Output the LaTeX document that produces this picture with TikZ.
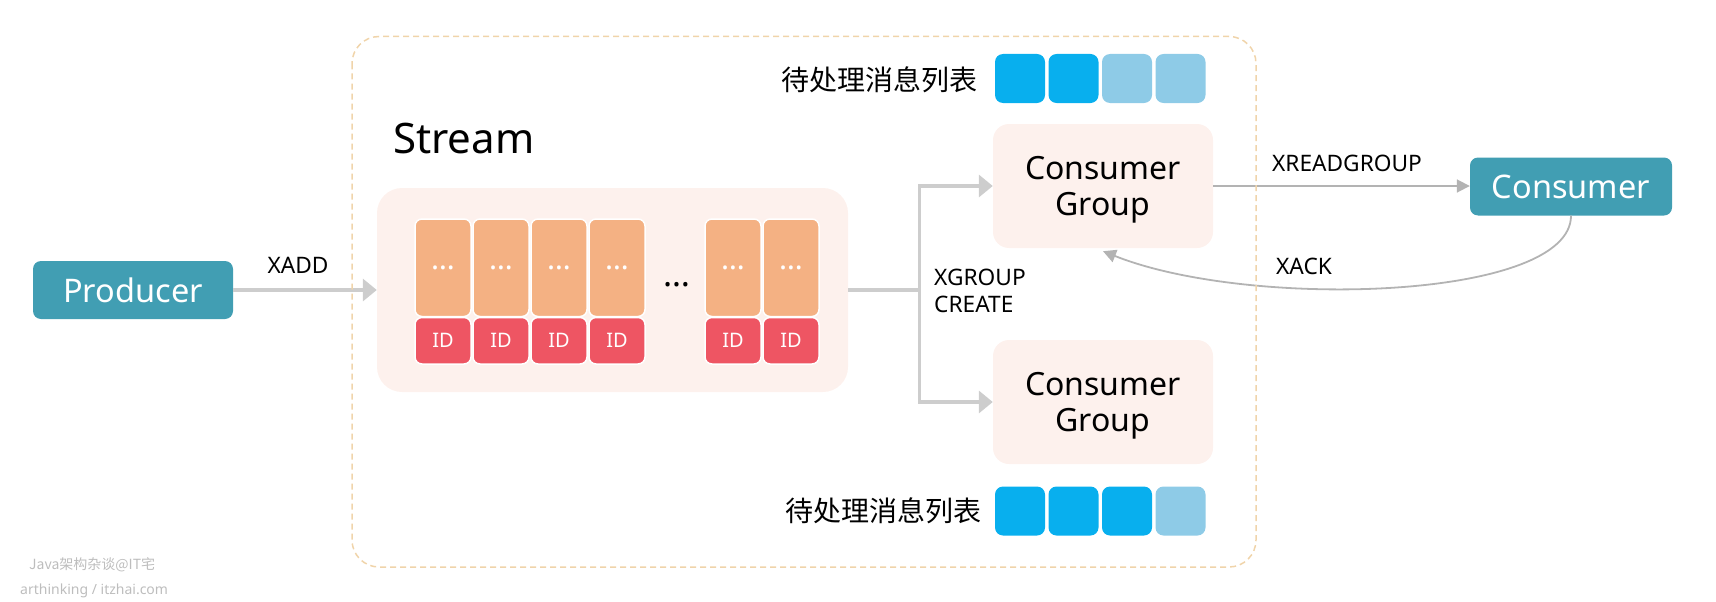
\documentclass[tikz,border=0pt]{standalone}
\usepackage{fontspec}
\setmainfont{Noto Sans}
\newfontfamily\cjk{Noto Sans CJK SC}
\usetikzlibrary{arrows.meta,positioning}
\definecolor{boxteal}{HTML}{419EB3}
\definecolor{panelpink}{HTML}{FDF1ED}
\definecolor{cellorange}{HTML}{F4B183}
\definecolor{cellred}{HTML}{EE5563}
\definecolor{qdark}{HTML}{08AFEE}
\definecolor{qlight}{HTML}{8ECBE7}
\definecolor{arrowgray}{HTML}{CDCDCD}
\definecolor{linegray}{HTML}{B3B3B3}
\definecolor{dashorange}{HTML}{F0D4AA}
\definecolor{wmgray}{HTML}{BDBDBD}

\begin{document}
\begin{tikzpicture}[x=1pt,y=-1pt,
        cmdbox/.style={rectangle,rounded corners=8pt,fill=boxteal,text=white,
            font=\fontsize{32.5}{37}\selectfont,minimum height=58pt},
        grpbox/.style={rectangle,rounded corners=16pt,fill=panelpink,align=center,
            font=\fontsize{32}{36.7}\selectfont,text depth=0pt,
            minimum width=220pt,minimum height=124pt},
        msgcell/.style={rectangle,rounded corners=7pt,fill=cellorange,draw=white,
            line width=1.5pt,minimum width=56pt,minimum height=97.5pt,text=white,
            font=\fontsize{30}{32}\selectfont},
        idcell/.style={msgcell,fill=cellred,minimum height=46.5pt,
            font=\fontsize{20}{22}\selectfont},
        pendsq/.style={rectangle,rounded corners=8pt,minimum width=50pt,minimum height=49pt},
        cmd/.style={inner sep=0pt,font=\fontsize{22.7}{27}\selectfont},
        pendlbl/.style={inner sep=0pt,font=\cjk\fontsize{28}{30}\selectfont},
        fat/.style={arrowgray,line width=3.3pt,-{Triangle[length=14pt,width=22pt]}},
        slim/.style={linegray,line width=1.8pt,-{Triangle[length=13pt,width=13pt]}},
        wm/.style={inner sep=0pt,text=wmgray,font=\fontsize{14}{16}\selectfont}]
    \useasboundingbox (0,0) rectangle (1716,602);

    % producer and consumer
    \node[cmdbox,minimum width=200pt] (producer) at (133,290) {Producer};
    \node[cmdbox,minimum width=202pt] (consumer) at (1571,186.5) {Consumer};

    % stream
    \node[rectangle,rounded corners=25pt,fill=panelpink,minimum width=471pt,
        minimum height=204pt] (stream) at (612.5,290) {};
    \node[anchor=base west,inner sep=0pt,font=\fontsize{42}{48}\selectfont]
        (streamlbl) at (393,153) {Stream};
    \foreach \i/\x in {1/443,2/501,3/559,4/617,5/733,6/791}{
        \node[msgcell] (msg\i) at (\x,267.75) {…};
        \node[idcell] (id\i) at (\x,340.75) {ID};
    }
    \node[inner sep=0pt,font=\fontsize{34}{36}\selectfont] (gap) at (677,285) {…};

    % consumer groups
    \node[grpbox] (cg1) at (1103,186) {Consumer\\Group};
    \node[grpbox] (cg2) at (1103,402) {Consumer\\Group};

    % pending lists
    \foreach \i/\c in {1/qdark,2/qdark,3/qlight,4/qlight}
        \node[pendsq,fill=\c] (pa\i) at ({1020+53.5*(\i-1)},78.5) {};
    \foreach \i/\c in {1/qdark,2/qdark,3/qdark,4/qlight}
        \node[pendsq,fill=\c] (pb\i) at ({1020+53.5*(\i-1)},511) {};
    \node[pendlbl,anchor=east] (palbl) at (978,80) {待处理消息列表};
    \node[pendlbl,anchor=east] (pblbl) at (982,511) {待处理消息列表};

    % arrows
    \draw[fat] (producer.east) -- (stream.west);
    \draw[fat] (stream.east) -- ++(71,0) coordinate (fork) |- (cg1.west);
    \draw[fat] (fork) |- (cg2.west);
    \draw[slim] (cg1.east) -- (cg1.east -| consumer.west);
    \draw[slim] (consumer.south) .. controls (1571,300) and (1250,310) .. ([yshift=-3pt]cg1.south);

    \node[cmd,anchor=base] (xadd) at (298,273.3) {XADD};
    \node[cmd,anchor=west,align=left] (xgroup) at (934,291) {XGROUP\\CREATE};
    \node[cmd] (xread) at (1347,163.3) {XREADGROUP};
    \node[cmd] (xack) at (1304,266) {XACK};

    % watermark
    \node[wm,anchor=base west] (wm1) at (29,569.3) {\cjk Java架构杂谈@IT宅};
    \node[wm,anchor=base west] (wm2) at (20,594) {arthinking / itzhai.com};

    % dashed frame
    \draw[dashorange,line width=1.5pt,dash pattern=on 6pt off 4pt,rounded corners=27pt]
        (352,36.5) rectangle (1256,567);
\end{tikzpicture}
\end{document}
